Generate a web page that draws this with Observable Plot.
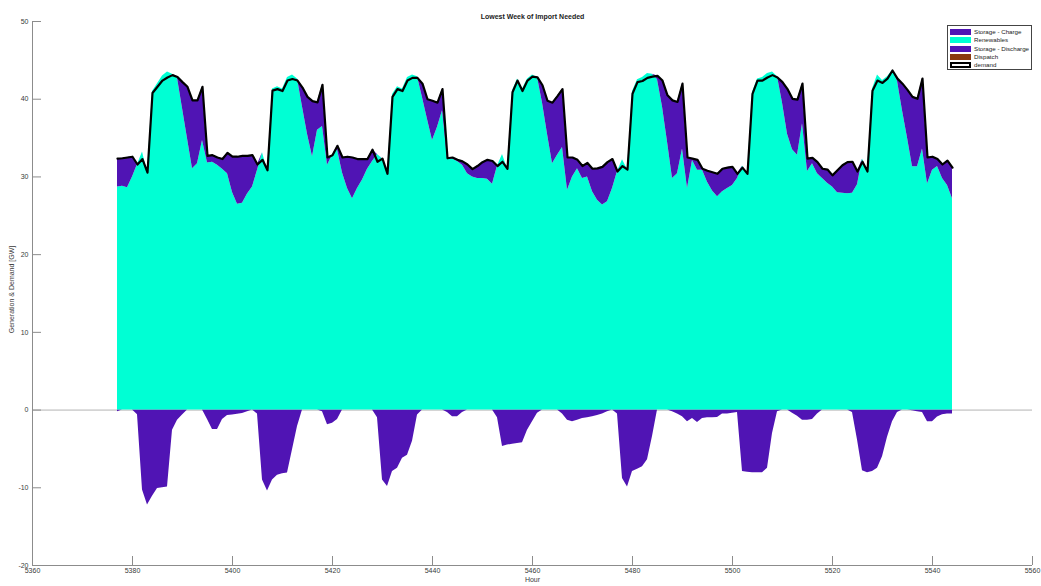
<!DOCTYPE html>
<html>
<head>
<meta charset="utf-8">
<script src="https://cdn.jsdelivr.net/npm/d3@7"></script>
<script src="https://cdn.jsdelivr.net/npm/@observablehq/plot@0.6"></script>
<style>
  body { margin: 0; background: #fff; font-family: "Liberation Sans", Arial, sans-serif; }
  #wrap { position: relative; width: 1041px; height: 586px; }
  #legend { position: absolute; left: 947px; top: 25px; width: 85px; height: 45px; border: 1px solid #444; background: #fff; box-sizing: border-box; }
  .row { position: absolute; left: 2px; height: 8px; font-size: 6.2px; line-height: 8px; color: #222; white-space: nowrap; }
  .sw { position: absolute; left: 0; top: 1px; width: 21px; height: 6px; box-sizing: border-box; }
  .lab { position: absolute; left: 24px; top: 0; }
</style>
</head>
<body>
<div id="wrap"><div id="legend"></div></div>
<script>
// ---- data (hourly, 5377..5544) ----
const startHour = 5377;

const demand = [
  32.35, 32.4, 32.5, 32.6, 31.6, 32.3, 30.55,
  40.8, 41.6, 42.4, 42.8, 43.1, 42.85, 42.2, 41.6, 39.85, 39.85, 41.6,
  32.7, 32.8, 32.5, 32.3, 33.1, 32.6, 32.6, 32.7, 32.7, 32.8, 31.6, 32.2, 30.85,
  41.1, 41.3, 41.05, 42.4, 42.6, 42.4, 41.5, 40.3, 39.75, 39.6, 41.85,
  32.5, 32.8, 34.0, 32.5, 32.6, 32.5, 32.3, 32.3, 32.3, 33.5, 31.95, 32.35, 30.4,
  40.3, 41.3, 41.05, 42.4, 42.75, 42.75, 42.0, 40.0, 39.8, 39.55, 41.3,
  32.4, 32.5, 32.2, 32.0, 31.6, 31.0, 31.4, 31.9, 32.2, 32.05, 31.4, 31.95, 31.05,
  40.9, 42.4, 41.05, 42.4, 42.9, 42.8, 41.8, 39.8, 39.55, 40.4, 41.3,
  32.5, 32.5, 32.2, 31.4, 31.8, 31.05, 31.1, 31.3, 31.9, 32.3, 30.7, 31.4, 30.95,
  40.7, 42.2, 42.35, 42.75, 42.9, 43.0, 42.4, 40.5, 39.85, 39.65, 42.0,
  32.5, 32.35, 32.2, 31.05, 30.8, 30.6, 30.4, 31.05, 31.2, 31.3, 30.4, 31.2, 30.4,
  40.7, 42.4, 42.4, 42.8, 43.1, 42.8, 42.2, 41.3, 40.05, 39.95, 42.0,
  32.35, 32.45, 31.9, 31.05, 30.95, 30.2, 30.85, 31.5, 31.9, 31.95, 30.7, 31.95, 30.7,
  41.1, 42.4, 42.1, 42.65, 43.7, 42.65, 42.0, 41.2, 40.3, 40.05, 42.65,
  32.5, 32.6, 32.3, 31.6, 32.1, 31.2
];

const renewables = [
  28.7, 28.8, 28.6, 30.0, 31.6, 33.2, 30.55,
  41.0, 42.0, 43.0, 43.5, 43.2, 42.7, 38.8, 34.9, 31.05, 31.7, 34.7,
  31.8, 31.9, 31.5, 31.0, 30.4, 28.0, 26.5, 26.6, 27.8, 28.7, 30.85, 33.1, 30.85,
  41.3, 41.6, 41.3, 42.8, 43.1, 42.6, 39.0, 35.5, 32.6, 36.0, 36.5,
  31.5, 32.8, 33.5, 30.5, 28.5, 27.2, 28.5, 29.6, 31.0, 32.0, 32.9, 32.3, 30.4,
  40.6, 41.6, 41.3, 42.8, 43.1, 42.9, 40.2, 37.4, 34.7, 36.4, 38.5,
  32.3, 32.3, 32.0, 31.5, 30.4, 30.0, 29.8, 29.8, 29.7, 29.05, 31.4, 32.9, 31.05,
  41.1, 42.6, 41.3, 42.6, 43.1, 42.8, 39.5, 35.5, 31.7, 32.8, 33.8,
  28.3, 30.0, 31.05, 29.8, 30.0, 28.1, 27.0, 26.4, 26.8, 28.5, 30.7, 32.2, 30.95,
  41.0, 42.5, 42.8, 43.3, 43.2, 42.5, 39.0, 34.5, 29.8, 30.4, 33.6,
  28.5, 32.1, 30.85, 30.85, 29.3, 28.2, 27.45, 28.1, 28.5, 28.9, 29.8, 31.4, 30.4,
  40.9, 42.6, 42.8, 43.3, 43.5, 42.9, 39.5, 35.5, 33.5, 32.8, 36.85,
  30.7, 31.7, 30.4, 29.8, 29.2, 28.7, 27.95, 27.9, 27.85, 27.9, 29.0, 32.3, 30.7,
  41.3, 43.1, 42.4, 42.9, 43.7, 42.3, 38.5, 35.0, 31.3, 31.3, 33.6,
  29.1, 30.85, 31.35, 29.8, 28.9, 27.2
];

const storageCharge = [
  -0.2, 0, 0, 0, -0.6, -10.3, -12.2,
  -11.1, -10.1, -10.0, -9.9, -2.6, -1.3, -0.65, 0, 0, 0, 0,
  -1.2, -2.5, -2.5, -1.2, -0.7, -0.65, -0.55, -0.45, -0.2, 0, -0.5, -9.0, -10.4,
  -9.0, -8.4, -8.2, -8.1, -5.1, -2.1, 0, 0, 0, 0, -0.2,
  -1.9, -1.7, -1.2, 0, 0, 0, 0, 0, 0, 0, -1.0, -9.0, -9.85,
  -7.9, -7.5, -6.2, -5.8, -4.0, -0.65, 0, 0, 0, 0, 0,
  -0.3, -0.85, -0.85, -0.3, 0, 0, 0, 0, 0, 0, -1.0, -4.7, -4.5,
  -4.4, -4.3, -4.2, -2.6, -1.5, -0.4, 0, 0, 0, 0, -0.5,
  -1.3, -1.5, -1.3, -1.1, -1.0, -0.85, -0.7, -0.5, -0.2, 0, -0.5, -8.8, -9.9,
  -7.9, -7.6, -7.3, -6.4, -3.4, 0, 0, 0, -0.2, -0.5, -0.85,
  -1.5, -1.1, -1.6, -1.1, -1.0, -1.0, -0.95, -0.5, -0.5, -0.4, -0.3, -7.9, -8.0,
  -8.05, -8.05, -8.05, -7.5, -3.0, -0.2, 0, 0, -0.4, -0.8, -1.3,
  -1.3, -1.2, -0.5, 0, 0, 0, 0, 0, 0, -0.3, -3.85, -7.8, -8.05,
  -7.9, -7.5, -6.0, -3.5, -1.5, -0.3, 0, 0, -0.1, -0.2, -0.3,
  -1.5, -1.5, -0.9, -0.6, -0.5, -0.5
];

const xTicks = [5360, 5380, 5400, 5420, 5440, 5460, 5480, 5500, 5520, 5540, 5560];
const yTicks = [-20, -10, 0, 10, 20, 30, 40, 50];

const legendLabels = ["Storage - Charge", "Renewables", "Storage - Discharge", "Dispatch", "demand"];
const titleText = "Lowest Week of Import Needed";
const xLabel = "Hour";
const yLabel = "Generation & Demand [GW]";

// ---- styling ----
const purple = "#5014b4";
const cyan = "#00ffd4";
const brown = "#8b3a0f";
const axisGray = "#8c8c8c";
const textGray = "#3a3a3a";

const rows = demand.map((d, i) => ({
  hour: startHour + i,
  demand: d,
  ren: renewables[i],
  charge: storageCharge[i]
}));

const chart = Plot.plot({
  width: 1041,
  height: 586,
  marginLeft: 32,
  marginRight: 9,
  marginTop: 21,
  marginBottom: 21,
  x: {domain: [5360, 5560]},
  y: {domain: [-20, 50]},
  style: {fontFamily: '"Liberation Sans", Arial, sans-serif', fontSize: "7px", color: textGray, background: "white", overflow: "visible"},
  marks: [
    Plot.ruleY([0], {stroke: "#b4b4b4", strokeWidth: 1}),
    Plot.areaY(rows, {x: "hour", y1: 0, y2: "charge", fill: purple}),
    Plot.areaY(rows, {x: "hour", y1: 0, y2: "ren", fill: cyan}),
    Plot.areaY(rows, {x: "hour", y1: "ren", y2: d => Math.max(d.ren, d.demand), fill: purple}),
    Plot.line(rows, {x: "hour", y: "demand", stroke: "#000", strokeWidth: 2.2, strokeLinejoin: "round"}),
    Plot.ruleX([5360], {stroke: axisGray}),
    Plot.ruleY([-20], {stroke: axisGray}),
    Plot.axisX({ticks: xTicks, tickSize: -9, tickPadding: 12, stroke: axisGray, fill: textGray, label: null, fontSize: 7, tickFormat: d => String(d)}),
    Plot.axisY({ticks: yTicks, tickSize: -9, tickPadding: 13, stroke: axisGray, fill: textGray, label: null, fontSize: 7, tickFormat: d => String(d)}),
    Plot.text([titleText], {frameAnchor: "top", dy: -7, fontWeight: "bold", fontSize: 7, fill: "#222"}),
    Plot.text([xLabel], {frameAnchor: "bottom", dy: 16, fontSize: 7, fill: textGray}),
    Plot.text([yLabel], {frameAnchor: "left", dx: -21, dy: -4, rotate: -90, textAnchor: "middle", fontSize: 7, fill: textGray})
  ]
});

document.getElementById("wrap").prepend(chart);

// ---- legend ----
const legendSwatches = [
  {fill: purple, border: "none"},
  {fill: cyan, border: "none"},
  {fill: purple, border: "none"},
  {fill: brown, border: "none"},
  {fill: "#fff", border: "2px solid #000"}
];
const leg = document.getElementById("legend");
legendLabels.forEach((lab, i) => {
  const row = document.createElement("div");
  row.className = "row";
  row.style.top = (2 + i * 8.3) + "px";
  const sw = document.createElement("div");
  sw.className = "sw";
  sw.style.background = legendSwatches[i].fill;
  sw.style.border = legendSwatches[i].border;
  const t = document.createElement("span");
  t.className = "lab";
  t.textContent = lab;
  row.appendChild(sw);
  row.appendChild(t);
  leg.appendChild(row);
});
</script>
</body>
</html>
